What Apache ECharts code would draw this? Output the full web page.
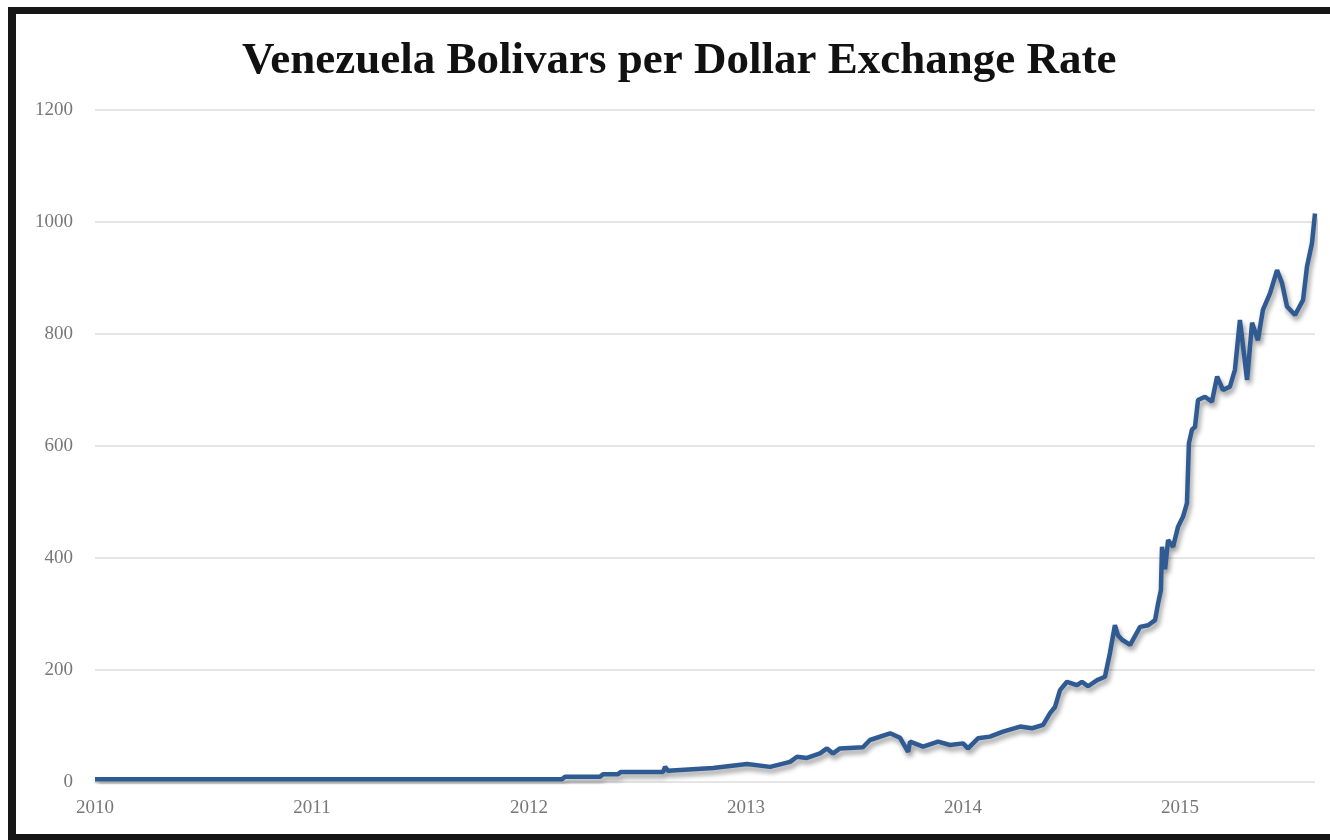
<!DOCTYPE html>
<html>
<head>
<meta charset="utf-8">
<script src="https://cdn.jsdelivr.net/npm/echarts@6/dist/echarts.min.js"></script>
<style>
html,body{margin:0;padding:0;background:#fff;}
#wrap{position:relative;width:1330px;height:840px;overflow:hidden;background:#fff;}
#chart{position:absolute;left:0;top:0;width:1330px;height:840px;}
#frame{position:absolute;left:8px;top:7px;width:1340px;height:820px;border-left:8px solid #161616;border-top:7px solid #161616;border-bottom:7px solid #161616;pointer-events:none;}
</style>
</head>
<body>
<div id="wrap"><div id="chart"></div><div id="frame"></div></div>
<script>
// Time in decimal years
var years = [
 2010.000, 2012.152, 2012.166, 2012.327, 2012.341, 2012.410, 2012.424, 2012.618, 2012.627, 2012.641,
 2012.848, 2013.005, 2013.111, 2013.203, 2013.235, 2013.281, 2013.341, 2013.373, 2013.401, 2013.433,
 2013.539, 2013.571, 2013.664, 2013.710, 2013.747, 2013.756, 2013.816, 2013.885, 2013.940, 2014.000,
 2014.023, 2014.069, 2014.124, 2014.184, 2014.263, 2014.318, 2014.369, 2014.401, 2014.424, 2014.447,
 2014.479, 2014.525, 2014.548, 2014.576, 2014.618, 2014.654, 2014.677, 2014.700, 2014.714, 2014.733,
 2014.770, 2014.816, 2014.853, 2014.885, 2014.899, 2014.912, 2014.917, 2014.931, 2014.945, 2014.968,
 2014.991, 2015.014, 2015.032, 2015.041, 2015.055, 2015.069, 2015.083, 2015.115, 2015.147, 2015.171,
 2015.198, 2015.230, 2015.253, 2015.276, 2015.309, 2015.332, 2015.359, 2015.382, 2015.415, 2015.447,
 2015.470, 2015.493, 2015.530, 2015.567, 2015.585, 2015.608, 2015.622
];
// Bolivars per US dollar
var rates = [
 5, 5, 9.5, 9.5, 14, 14, 18, 18, 27, 20,
 25, 32, 27, 36, 45, 43, 51, 60, 51, 60,
 62, 75, 87, 79, 54, 72, 63, 72, 66, 69,
 60, 78, 81, 90, 99, 96, 102, 123, 134, 164,
 179, 173, 179, 171, 182, 188, 230, 280, 262, 254,
 245, 277, 280, 289, 319, 343, 420, 380, 432, 420,
 456, 474, 498, 605, 629, 634, 682, 688, 679, 724,
 700, 706, 736, 825, 718, 820, 789, 843, 873, 914,
 891, 849, 834, 861, 920, 962, 1015
];
var yTicks = [0, 200, 400, 600, 800, 1000, 1200];
var xYearLabels = [2010, 2011, 2012, 2013, 2014, 2015];
var titleText = 'Venezuela Bolivars per Dollar Exchange Rate';

var seriesData = years.map(function (t, i) { return [t, rates[i]]; });

var chart = echarts.init(document.getElementById('chart'));
chart.setOption({
  animation: false,
  backgroundColor: '#fff',
  title: {
    text: titleText,
    left: 237,
    top: 34,
    textStyle: { fontFamily: 'Liberation Serif', fontWeight: 'bold', fontSize: 45, color: '#111' }
  },
  grid: { left: 95, right: 15, top: 110, bottom: 58, containLabel: false },
  xAxis: {
    type: 'value',
    min: xYearLabels[0],
    max: years[years.length - 1],
    interval: 1,
    axisLine: { show: false },
    axisTick: { show: false },
    splitLine: { show: false },
    axisLabel: {
      margin: 17,
      fontFamily: 'Liberation Serif',
      fontSize: 19,
      color: '#777',
      showMaxLabel: false,
      formatter: function (v) { return xYearLabels.indexOf(Math.round(v)) >= 0 && Math.abs(v - Math.round(v)) < 1e-6 ? String(Math.round(v)) : ''; }
    }
  },
  yAxis: {
    type: 'value',
    min: yTicks[0],
    max: yTicks[yTicks.length - 1],
    interval: 200,
    axisLine: { show: false },
    axisTick: { show: false },
    splitLine: { lineStyle: { color: '#dcdcdc', width: 1.5 } },
    axisLabel: { margin: 22, fontFamily: 'Liberation Serif', fontSize: 19, color: '#777', formatter: function (v) { return String(v); } }
  },
  series: [{
    type: 'line',
    data: seriesData,
    showSymbol: false,
    lineStyle: {
      color: '#2f5b92',
      width: 4.5,
      shadowColor: 'rgba(0,0,0,0.4)',
      shadowBlur: 5,
      shadowOffsetX: 2,
      shadowOffsetY: 4
    }
  }]
});
</script>
</body>
</html>
